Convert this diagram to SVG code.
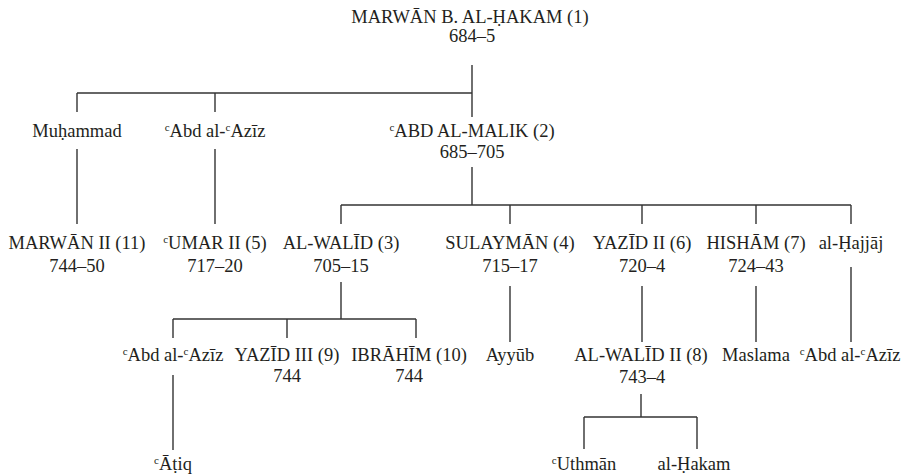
<svg xmlns="http://www.w3.org/2000/svg" width="909" height="476" viewBox="0 0 909 476" font-family="Liberation Serif, Tinos, Times New Roman, serif">
<style>
text{font-family:"Liberation Serif","Tinos","Times New Roman",serif;font-size:18.5px;fill:#231f20;text-anchor:middle}
tspan.c{font-size:11px}
#connectors line{stroke:#333;stroke-width:1.4;fill:none}
</style>
<rect width="909" height="476" fill="#fff"/>
<g id="connectors">
<line x1="472" y1="65" x2="472" y2="117"/>
<line x1="77" y1="93" x2="472" y2="93"/>
<line x1="77" y1="93" x2="77" y2="112"/>
<line x1="215" y1="93" x2="215" y2="112"/>
<line x1="77" y1="149" x2="77" y2="224"/>
<line x1="215" y1="149" x2="215" y2="224"/>
<line x1="472" y1="167" x2="472" y2="205"/>
<line x1="341" y1="205" x2="851" y2="205"/>
<line x1="341" y1="205" x2="341" y2="224"/>
<line x1="510" y1="205" x2="510" y2="224"/>
<line x1="642" y1="205" x2="642" y2="224"/>
<line x1="756" y1="205" x2="756" y2="224"/>
<line x1="851" y1="205" x2="851" y2="224"/>
<line x1="341" y1="282" x2="341" y2="319"/>
<line x1="173" y1="319" x2="416" y2="319"/>
<line x1="173" y1="319" x2="173" y2="338"/>
<line x1="287" y1="319" x2="287" y2="338"/>
<line x1="416" y1="319" x2="416" y2="338"/>
<line x1="510" y1="286" x2="510" y2="342"/>
<line x1="642" y1="286" x2="642" y2="342"/>
<line x1="756" y1="286" x2="756" y2="342"/>
<line x1="851" y1="267" x2="851" y2="342"/>
<line x1="173" y1="375" x2="173" y2="450"/>
<line x1="641" y1="394" x2="641" y2="417"/>
<line x1="584" y1="417" x2="697" y2="417"/>
<line x1="584" y1="417" x2="584" y2="449"/>
<line x1="697" y1="417" x2="697" y2="449"/>
</g>
<g id="marwan1"><text x="470" y="23">MARWĀN B. AL-ḤAKAM (1)</text><text x="472" y="42">684–5</text></g>
<g id="muhammad"><text x="77" y="137">Muḥammad</text></g>
<g id="abdalaziz1"><text x="215" y="137"><tspan class="c" dy="-6">c</tspan><tspan dy="6">Abd al-</tspan><tspan class="c" dy="-6">c</tspan><tspan dy="6">Azīz</tspan></text></g>
<g id="abdalmalik"><text x="472" y="137"><tspan class="c" dy="-6">c</tspan><tspan dy="6">ABD AL-MALIK (2)</tspan></text><text x="472" y="158">685–705</text></g>
<g id="marwan2"><text x="77" y="249">MARWĀN II (11)</text><text x="77" y="272">744–50</text></g>
<g id="umar2"><text x="215" y="249"><tspan class="c" dy="-6">c</tspan><tspan dy="6">UMAR II (5)</tspan></text><text x="215" y="272">717–20</text></g>
<g id="walid1"><text x="341" y="249">AL-WALĪD (3)</text><text x="341" y="272">705–15</text></g>
<g id="sulayman"><text x="510" y="249">SULAYMĀN (4)</text><text x="510" y="272">715–17</text></g>
<g id="yazid2"><text x="642" y="249">YAZĪD II (6)</text><text x="642" y="272">720–4</text></g>
<g id="hisham"><text x="756" y="249">HISHĀM (7)</text><text x="756" y="272">724–43</text></g>
<g id="hajjaj"><text x="851" y="249">al-Ḥajjāj</text></g>
<g id="abdalaziz2"><text x="173" y="361"><tspan class="c" dy="-6">c</tspan><tspan dy="6">Abd al-</tspan><tspan class="c" dy="-6">c</tspan><tspan dy="6">Azīz</tspan></text></g>
<g id="yazid3"><text x="287" y="361">YAZĪD III (9)</text><text x="287" y="382">744</text></g>
<g id="ibrahim"><text x="409" y="361">IBRĀHĪM (10)</text><text x="409" y="382">744</text></g>
<g id="ayyub"><text x="510" y="361">Ayyūb</text></g>
<g id="walid2"><text x="641" y="361">AL-WALĪD II (8)</text><text x="642" y="383">743–4</text></g>
<g id="maslama"><text x="756" y="361">Maslama</text></g>
<g id="abdalaziz3"><text x="850" y="361"><tspan class="c" dy="-6">c</tspan><tspan dy="6">Abd al-</tspan><tspan class="c" dy="-6">c</tspan><tspan dy="6">Azīz</tspan></text></g>
<g id="atiq"><text x="173" y="470"><tspan class="c" dy="-6">c</tspan><tspan dy="6">Āṭiq</tspan></text></g>
<g id="uthman"><text x="584" y="470"><tspan class="c" dy="-6">c</tspan><tspan dy="6">Uthmān</tspan></text></g>
<g id="hakam"><text x="694" y="470">al-Ḥakam</text></g>
</svg>
